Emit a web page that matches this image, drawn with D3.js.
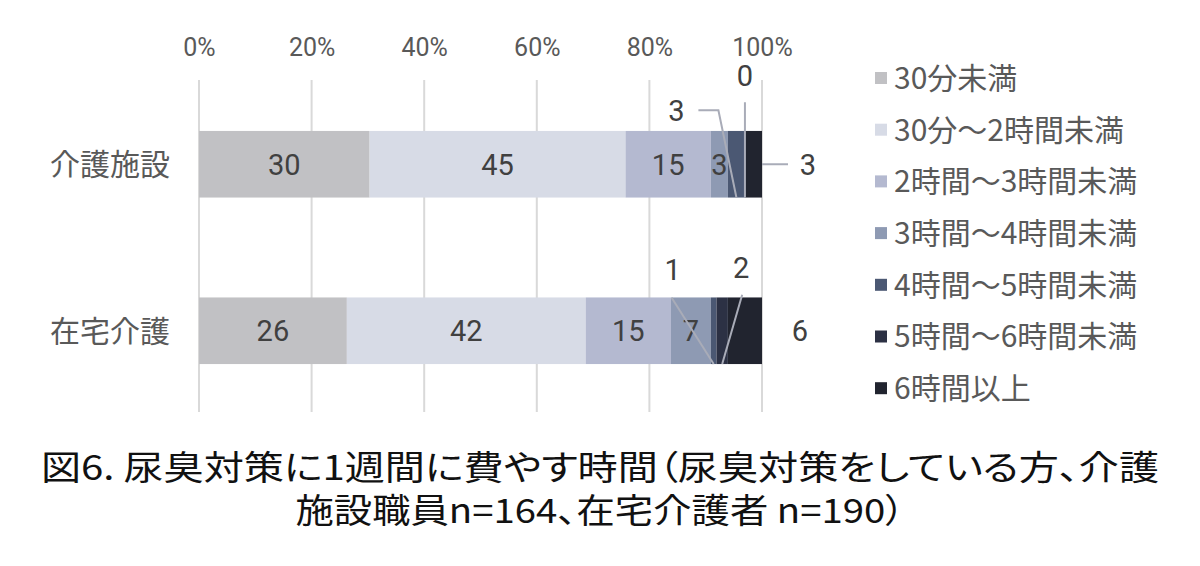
<!DOCTYPE html>
<html>
<head>
<meta charset="utf-8">
<script src="https://cdn.jsdelivr.net/npm/d3@7"></script>
<style>
  body { margin: 0; background: #fff; }
  text { font-family: "Noto Sans CJK JP", "Noto Sans", sans-serif; }
</style>
</head>
<body>
<svg id="chart"></svg>
<script>
// data (percent labels)
const categories = ["介護施設", "在宅介護"];
const seriesNames = [
  "30分未満",
  "30分～2時間未満",
  "2時間～3時間未満",
  "3時間～4時間未満",
  "4時間～5時間未満",
  "5時間～6時間未満",
  "6時間以上"
];
const shisetsuValues = [30, 45, 15, 3, 3, 0, 3];
const zaitakuValues = [26, 42, 15, 7, 1, 2, 6];
const tickValues = [0, 0.2, 0.4, 0.6, 0.8, 1];
const titleLines = [
  "図6. 尿臭対策に1週間に費やす時間（尿臭対策をしている方、介護",
  "施設職員n=164、在宅介護者 n=190）"
];

const colors = ["#c1c1c4", "#d7dbe6", "#b4b9d0", "#8e9ab3", "#4b5873", "#2c3144", "#21242f"];

const width = 1200;
const height = 566;

const svg = d3.select("#chart")
    .attr("width", width)
    .attr("height", height);

svg.append("rect").attr("width", width).attr("height", height).attr("fill", "#fff");

const rows = categories.map((c, i) => {
    const vals = i === 0 ? shisetsuValues : zaitakuValues;
    const r = { cat: c };
    seriesNames.forEach((s, j) => r[s] = vals[j]);
    return r;
});

const stacked = d3.stack()
    .keys(seriesNames)
    .offset(d3.stackOffsetExpand)(rows);

const x = d3.scaleLinear().domain([0, 1]).range([199, 762]);
const y = d3.scaleBand()
    .domain(categories)
    .range([81, 414])
    .paddingInner(0.6)
    .paddingOuter(0.3);

// gridlines
svg.append("g")
    .selectAll("line")
    .data(tickValues)
    .enter().append("line")
    .attr("x1", d => x(d)).attr("x2", d => x(d))
    .attr("y1", 80).attr("y2", 412)
    .attr("stroke", "#d9d9d9")
    .attr("stroke-width", 2);

// top axis labels
const xAxis = svg.append("g")
    .attr("transform", "translate(0,47)")
    .call(d3.axisTop(x).tickValues(tickValues).tickFormat(d3.format(".0%")).tickSize(0));
xAxis.select(".domain").remove();
xAxis.selectAll("text")
    .attr("y", 0)
    .attr("dy", "0.35em")
    .style("font-size", "25px")
    .style("font-family", "Roboto, 'Noto Sans CJK JP', sans-serif")
    .attr("fill", "#595959");

// category labels
const yAxis = svg.append("g")
    .attr("transform", "translate(170,0)")
    .call(d3.axisLeft(y).tickSize(0).tickPadding(0));
yAxis.select(".domain").remove();
yAxis.selectAll("text")
    .attr("dy", "0.36em")
    .style("font-size", "30px")
    .attr("fill", "#595959");

// bars
const layer = svg.append("g")
    .selectAll("g")
    .data(stacked)
    .enter().append("g")
    .attr("fill", (d, i) => colors[i]);

layer.selectAll("rect")
    .data(d => d)
    .enter().append("rect")
    .attr("x", d => x(d[0]))
    .attr("y", d => y(d.data.cat))
    .attr("width", d => x(d[1]) - x(d[0]))
    .attr("height", y.bandwidth());

// labels inside the bar (first four series)
const numFont = "Roboto, 'Noto Sans CJK JP', sans-serif";
stacked.slice(0, 4).forEach(s => {
    s.forEach(d => {
        svg.append("text")
            .attr("x", x((d[0] + d[1]) / 2))
            .attr("y", y(d.data.cat) + y.bandwidth() / 2)
            .attr("dy", "0.36em")
            .attr("text-anchor", "middle")
            .style("font-size", "29px")
            .style("font-family", numFont)
            .attr("fill", "#404040")
            .text(d.data[s.key]);
    });
});

// small segments get callouts (offsets are layout only)
// anchor: "bottom" = bottom centre of segment, "right" = right end of bar
const callouts = [
    { cat: 0, ser: 4, dx: -60, dy: -54, leader: [[22, 0], [42, 0]], anchor: "bottom" },
    { cat: 0, ser: 5, dx: 0, dy: -89, leader: [[0, 27]], anchor: "bottom" },
    { cat: 0, ser: 6, dx: 46, dy: 0, leader: [[-20, 0]], anchor: "right" },
    { cat: 1, ser: 4, dx: -41, dy: -61, leader: [[-1, 28]], anchor: "bottom" },
    { cat: 1, ser: 5, dx: 19, dy: -63, leader: [[1, 27]], anchor: "bottom" },
    { cat: 1, ser: 6, dx: 38, dy: 0, leader: null, anchor: "right" }
];

callouts.forEach(c => {
    const d = stacked[c.ser][c.cat];
    const yMid = y(d.data.cat) + y.bandwidth() / 2;
    let ax, ay, lx;
    if (c.anchor === "right") {
        ax = x(d[1]); ay = yMid; lx = ax + c.dx;
    } else {
        ax = x((d[0] + d[1]) / 2); ay = y(d.data.cat) + y.bandwidth(); lx = ax + c.dx;
    }
    const ly = yMid + c.dy;
    if (c.leader) {
        const pts = c.leader.map(p => [lx + p[0], ly + p[1]]);
        pts.push([ax, ay]);
        svg.append("path")
            .attr("d", d3.line()(pts))
            .attr("fill", "none")
            .attr("stroke", "#a9acb8")
            .attr("stroke-width", 2);
    }
    svg.append("text")
        .attr("x", lx)
        .attr("y", ly)
        .attr("dy", "0.36em")
        .attr("text-anchor", "middle")
        .style("font-size", "29px")
        .style("font-family", numFont)
        .attr("fill", "#404040")
        .text(d.data[stacked[c.ser].key]);
});

// legend
const legend = svg.append("g")
    .selectAll("g")
    .data(seriesNames)
    .enter().append("g")
    .attr("transform", (d, i) => `translate(875,${78 + i * 51.7})`);

legend.append("rect")
    .attr("x", 0).attr("y", -6)
    .attr("width", 12).attr("height", 12)
    .attr("fill", (d, i) => colors[i]);

legend.append("text")
    .attr("x", 19)
    .attr("dy", "0.36em")
    .style("font-size", "30px")
    .attr("fill", "#595959")
    .text(d => d);

// title (stretched to the width it has in the figure)
const titleWidths = [1118, 609];
svg.append("g")
    .selectAll("text")
    .data(titleLines)
    .enter().append("text")
    .attr("x", 600)
    .attr("y", (d, i) => 480 + i * 43)
    .attr("text-anchor", "middle")
    .attr("textLength", (d, i) => titleWidths[i])
    .attr("lengthAdjust", "spacingAndGlyphs")
    .style("font-size", "34px")
    .style("font-feature-settings", "'palt'")
    .attr("fill", "#111")
    .text(d => d);
</script>
</body>
</html>
